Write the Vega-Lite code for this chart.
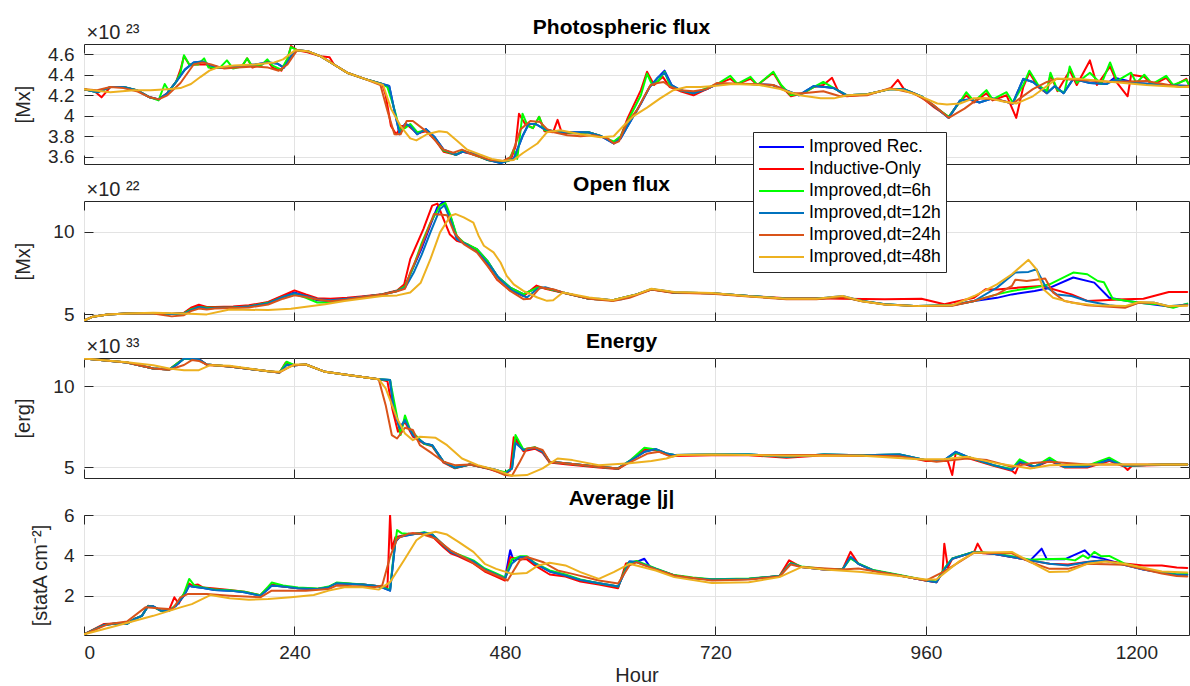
{
"$schema": "https://vega.github.io/schema/vega-lite/v6.json",
"padding": {"left": 12, "top": 16, "right": 0, "bottom": 0},
"spacing": 37,
"bounds": "flush",
"config": {
  "font": "Liberation Sans",
  "view": {"stroke": "#262626", "strokeWidth": 1},
  "axis": {"labelFont": "Liberation Sans", "labelFontSize": 19, "labelColor": "#262626", "titleFont": "Liberation Sans", "titleFontSize": 20, "titleFontWeight": "normal", "titleColor": "#262626", "tickColor": "#262626", "tickSize": -9, "gridColor": "#e3e3e3", "domain": false},
  "title": {"font": "Liberation Sans", "fontSize": 21, "fontWeight": "bold", "color": "#000000", "dx": -15, "dy": 20},
  "legend": {"orient": "none", "legendX": 669, "legendY": 88, "fillColor": "#ffffff", "strokeColor": "#262626", "padding": 5, "labelFont": "Liberation Sans", "labelFontSize": 17.5, "labelColor": "#000000", "symbolType": "stroke", "symbolSize": 2025, "symbolStrokeWidth": 3, "clipHeight": 20, "rowPadding": 2, "labelOffset": 4, "cornerRadius": 0}
},
"data": {"values": [
{"p":"phot","s":"Improved Rec.","d":[[0,4.26],[15,4.23],[30,4.28],[45,4.28],[60,4.25],[75,4.18],[85,4.16],[95,4.22],[105,4.33],[115,4.45],[125,4.52],[135,4.53],[145,4.49],[155,4.47],[170,4.48],[185,4.49],[195,4.50],[210,4.52],[220,4.51],[228,4.47],[236,4.58],[243,4.64],[255,4.63],[270,4.58],[285,4.50],[300,4.42],[320,4.36],[340,4.31],[348,4.29],[354,4.05],[360,3.82],[366,3.92],[372,3.90],[380,3.82],[390,3.87],[400,3.79],[410,3.67],[424,3.62],[432,3.65],[445,3.63],[460,3.57],[475,3.54],[490,3.58],[500,3.80],[507,3.92],[515,3.92],[525,3.87],[540,3.84],[560,3.84],[575,3.84],[590,3.80],[604,3.73],[612,3.78],[620,3.90],[635,4.12],[645,4.28],[654,4.37],[662,4.44],[670,4.30],[680,4.25],[695,4.22],[710,4.26],[722,4.31],[740,4.31],[760,4.31],[785,4.30],[800,4.25],[815,4.20],[832,4.29],[845,4.28],[855,4.27],[870,4.20],[893,4.21],[919,4.26],[935,4.26],[955,4.19],[970,4.09],[986,3.98],[999,4.15],[1010,4.16],[1021,4.13],[1036,4.17],[1059,4.12],[1071,4.36],[1082,4.33],[1098,4.22],[1107,4.29],[1117,4.22],[1128,4.36],[1147,4.32],[1166,4.31],[1175,4.37],[1200,4.32],[1230,4.30],[1260,4.29]]},
{"p":"phot","s":"Inductive-Only","d":[[0,4.26],[12,4.24],[20,4.18],[30,4.28],[45,4.28],[60,4.25],[75,4.18],[85,4.16],[95,4.22],[105,4.33],[110,4.45],[114,4.58],[120,4.50],[130,4.50],[140,4.50],[145,4.46],[155,4.47],[170,4.47],[180,4.48],[186,4.56],[192,4.47],[203,4.50],[209,4.54],[215,4.47],[225,4.44],[232,4.55],[236,4.68],[243,4.64],[255,4.62],[270,4.58],[280,4.57],[285,4.50],[300,4.42],[320,4.36],[340,4.31],[344,4.20],[350,3.90],[356,3.82],[362,3.90],[370,3.90],[380,3.83],[390,3.85],[400,3.77],[410,3.65],[424,3.62],[432,3.65],[445,3.62],[460,3.57],[475,3.55],[487,3.58],[492,3.70],[496,4.02],[503,3.92],[512,3.88],[519,3.99],[525,3.85],[535,3.84],[540,3.96],[545,3.83],[560,3.83],[575,3.84],[590,3.80],[604,3.74],[612,3.80],[620,3.98],[635,4.25],[642,4.43],[650,4.30],[660,4.38],[668,4.28],[680,4.24],[695,4.20],[710,4.26],[722,4.31],[737,4.36],[745,4.31],[760,4.36],[768,4.30],[786,4.42],[795,4.29],[806,4.19],[820,4.22],[832,4.28],[843,4.30],[853,4.37],[860,4.24],[870,4.19],[893,4.21],[919,4.26],[928,4.35],[935,4.26],[955,4.18],[970,4.08],[986,3.99],[999,4.14],[1006,4.20],[1015,4.13],[1029,4.22],[1036,4.15],[1052,4.20],[1063,3.98],[1071,4.28],[1078,4.42],[1088,4.28],[1098,4.22],[1102,4.40],[1110,4.24],[1124,4.44],[1132,4.30],[1147,4.54],[1155,4.30],[1170,4.48],[1178,4.32],[1190,4.19],[1194,4.40],[1209,4.38],[1218,4.30],[1234,4.37],[1242,4.29],[1257,4.36],[1260,4.30]]},
{"p":"phot","s":"Improved,dt=6h","d":[[0,4.26],[15,4.23],[30,4.28],[45,4.28],[60,4.25],[75,4.18],[85,4.15],[92,4.31],[97,4.24],[105,4.33],[110,4.42],[114,4.59],[120,4.50],[130,4.50],[137,4.56],[142,4.47],[155,4.47],[163,4.54],[170,4.46],[180,4.48],[186,4.56],[192,4.48],[203,4.50],[209,4.55],[215,4.49],[225,4.45],[232,4.56],[236,4.67],[243,4.64],[255,4.63],[270,4.58],[285,4.50],[300,4.42],[320,4.36],[340,4.31],[346,4.28],[352,4.12],[355,4.03],[360,3.86],[366,3.88],[372,3.92],[380,3.84],[390,3.86],[400,3.78],[410,3.66],[424,3.62],[432,3.66],[445,3.62],[460,3.57],[475,3.55],[484,3.56],[490,3.67],[494,3.58],[500,4.02],[506,3.90],[512,3.88],[519,3.99],[525,3.86],[540,3.85],[560,3.83],[575,3.84],[590,3.80],[604,3.75],[612,3.80],[620,3.95],[635,4.20],[642,4.41],[648,4.30],[655,4.34],[662,4.43],[668,4.30],[680,4.25],[695,4.22],[710,4.27],[722,4.31],[737,4.39],[745,4.31],[760,4.38],[768,4.30],[786,4.43],[795,4.30],[806,4.20],[820,4.22],[832,4.28],[843,4.33],[855,4.27],[870,4.20],[893,4.21],[919,4.26],[935,4.26],[955,4.19],[970,4.09],[986,3.99],[999,4.14],[1006,4.23],[1015,4.14],[1029,4.25],[1036,4.16],[1052,4.23],[1059,4.13],[1071,4.30],[1078,4.44],[1088,4.30],[1098,4.24],[1102,4.42],[1110,4.25],[1118,4.23],[1124,4.48],[1132,4.32],[1147,4.42],[1160,4.31],[1170,4.52],[1178,4.34],[1194,4.42],[1200,4.32],[1209,4.40],[1218,4.31],[1234,4.39],[1242,4.30],[1257,4.35],[1260,4.30]]},
{"p":"phot","s":"Improved,dt=12h","d":[[0,4.26],[15,4.23],[30,4.28],[45,4.28],[60,4.25],[75,4.18],[85,4.16],[95,4.22],[105,4.33],[115,4.45],[125,4.52],[135,4.53],[145,4.49],[155,4.47],[170,4.48],[185,4.49],[195,4.50],[210,4.52],[220,4.51],[228,4.47],[236,4.58],[243,4.64],[255,4.63],[270,4.58],[285,4.50],[300,4.42],[320,4.36],[340,4.31],[348,4.29],[354,4.05],[360,3.82],[366,3.92],[372,3.90],[380,3.82],[390,3.87],[400,3.79],[410,3.67],[424,3.62],[432,3.65],[445,3.63],[460,3.57],[475,3.54],[490,3.58],[500,3.80],[507,3.92],[515,3.92],[525,3.87],[540,3.84],[560,3.84],[575,3.84],[590,3.80],[604,3.73],[612,3.78],[620,3.90],[635,4.12],[645,4.28],[654,4.37],[662,4.42],[670,4.30],[680,4.25],[695,4.22],[710,4.26],[722,4.31],[740,4.31],[760,4.31],[785,4.30],[800,4.25],[815,4.20],[832,4.29],[845,4.28],[855,4.27],[870,4.20],[893,4.21],[919,4.26],[935,4.26],[955,4.19],[970,4.09],[986,3.98],[999,4.15],[1010,4.16],[1021,4.13],[1036,4.17],[1059,4.12],[1071,4.36],[1082,4.33],[1098,4.22],[1107,4.29],[1117,4.22],[1128,4.36],[1147,4.32],[1166,4.31],[1175,4.35],[1200,4.32],[1230,4.30],[1260,4.29]]},
{"p":"phot","s":"Improved,dt=24h","d":[[0,4.26],[15,4.25],[30,4.28],[45,4.27],[60,4.24],[75,4.18],[85,4.16],[95,4.20],[110,4.32],[125,4.50],[135,4.52],[145,4.50],[160,4.46],[175,4.47],[195,4.48],[210,4.47],[222,4.44],[232,4.50],[243,4.64],[255,4.63],[270,4.58],[285,4.50],[300,4.42],[320,4.36],[338,4.30],[346,4.05],[354,3.82],[361,3.82],[368,3.95],[375,3.95],[387,3.87],[394,3.82],[410,3.67],[421,3.64],[431,3.67],[444,3.62],[463,3.57],[478,3.56],[487,3.60],[498,3.87],[509,3.95],[520,3.94],[528,3.87],[536,3.84],[551,3.81],[566,3.80],[581,3.81],[597,3.78],[604,3.73],[610,3.75],[619,3.93],[631,4.06],[639,4.19],[646,4.30],[654,4.32],[661,4.33],[669,4.28],[680,4.25],[695,4.24],[710,4.26],[722,4.32],[760,4.31],[786,4.30],[806,4.22],[820,4.22],[843,4.24],[862,4.19],[893,4.20],[919,4.27],[946,4.22],[968,4.11],[986,3.98],[1004,4.07],[1020,4.17],[1041,4.16],[1059,4.12],[1082,4.26],[1098,4.33],[1109,4.36],[1135,4.35],[1173,4.33],[1211,4.34],[1250,4.28],[1260,4.29]]},
{"p":"phot","s":"Improved,dt=48h","d":[[0,4.26],[30,4.23],[57,4.25],[76,4.25],[95,4.26],[110,4.27],[122,4.31],[133,4.38],[143,4.44],[152,4.47],[171,4.49],[194,4.50],[217,4.52],[227,4.55],[241,4.64],[255,4.63],[270,4.58],[285,4.50],[300,4.42],[320,4.36],[341,4.30],[350,4.07],[361,3.90],[372,3.78],[379,3.76],[391,3.82],[405,3.85],[414,3.84],[425,3.76],[437,3.67],[452,3.62],[465,3.58],[478,3.56],[490,3.57],[501,3.64],[517,3.73],[528,3.84],[543,3.86],[566,3.82],[589,3.79],[604,3.80],[615,3.90],[627,4.00],[642,4.08],[657,4.17],[672,4.25],[687,4.28],[703,4.28],[718,4.29],[740,4.31],[770,4.30],[794,4.26],[816,4.20],[840,4.17],[855,4.17],[870,4.20],[893,4.21],[919,4.26],[934,4.25],[954,4.19],[973,4.12],[984,4.11],[999,4.12],[1014,4.17],[1033,4.17],[1048,4.14],[1063,4.12],[1082,4.19],[1098,4.29],[1109,4.36],[1135,4.36],[1173,4.33],[1211,4.30],[1250,4.28],[1260,4.28]]},
{"p":"open","s":"Improved Rec.","d":[[0,4.62],[10,4.86],[27,5.0],[49,5.06],[79,5.08],[100,5.02],[114,5.08],[122,5.35],[131,5.5],[140,5.42],[149,5.42],[170,5.45],[188,5.5],[210,5.72],[227,6.1],[240,6.32],[253,6.1],[266,5.85],[281,5.8],[300,5.95],[319,6.07],[340,6.2],[357,6.42],[366,6.72],[376,7.9],[385,9.0],[395,10.4],[403,11.5],[410,11.82],[418,10.9],[425,9.7],[433,9.3],[448,8.95],[460,8.24],[471,7.33],[486,6.62],[501,6.22],[517,6.62],[526,6.6],[546,6.32],[576,5.95],[603,5.85],[630,6.21],[647,6.52],[673,6.32],[716,6.28],[758,6.11],[801,5.95],[835,5.95],[865,6.07],[887,5.81],[913,5.61],[951,5.5],[990,5.55],[1015,5.81],[1041,6.0],[1058,6.21],[1084,6.42],[1101,6.6],[1128,7.23],[1152,6.92],[1169,6.01],[1190,5.81],[1220,5.6],[1242,5.45],[1258,5.62]]},
{"p":"open","s":"Inductive-Only","d":[[0,4.62],[10,4.86],[27,5.0],[49,5.06],[79,5.08],[100,5.02],[114,5.1],[122,5.4],[131,5.58],[140,5.45],[149,5.45],[170,5.48],[188,5.55],[210,5.75],[227,6.15],[240,6.45],[253,6.2],[266,5.98],[281,5.95],[300,6.0],[319,6.1],[340,6.22],[357,6.45],[365,6.8],[372,8.34],[387,10.16],[397,11.58],[403,11.7],[410,10.77],[417,9.85],[425,9.45],[437,9.25],[447,8.95],[460,8.0],[471,7.1],[486,6.45],[501,6.1],[516,6.74],[526,6.55],[546,6.3],[576,5.95],[603,5.85],[630,6.21],[647,6.5],[673,6.3],[716,6.28],[758,6.11],[801,5.97],[835,5.97],[865,5.95],[913,5.91],[955,5.95],[981,5.61],[1015,6.01],[1028,6.52],[1041,6.5],[1066,6.62],[1092,6.72],[1126,6.21],[1144,5.81],[1187,5.91],[1208,5.95],[1237,6.36],[1258,6.36]]},
{"p":"open","s":"Improved,dt=6h","d":[[0,4.62],[10,4.86],[27,5.0],[49,5.06],[79,5.08],[100,5.02],[114,5.06],[122,5.3],[131,5.45],[140,5.4],[149,5.4],[170,5.42],[188,5.48],[210,5.7],[227,6.05],[240,6.25],[253,6.0],[266,5.72],[281,5.72],[300,5.9],[319,6.05],[340,6.2],[357,6.42],[366,6.7],[376,7.94],[385,9.3],[395,10.55],[406,11.58],[412,11.74],[418,10.97],[425,9.75],[433,9.35],[448,8.95],[460,8.24],[471,7.33],[486,6.62],[501,6.22],[517,6.62],[526,6.6],[546,6.32],[576,5.95],[603,5.85],[630,6.21],[647,6.52],[673,6.32],[716,6.28],[758,6.11],[801,5.95],[835,5.95],[865,6.07],[887,5.81],[913,5.61],[951,5.5],[990,5.55],[1015,5.81],[1041,6.21],[1058,6.42],[1084,6.62],[1101,6.82],[1128,7.53],[1144,7.43],[1156,7.02],[1163,6.95],[1173,5.95],[1190,5.81],[1208,5.67],[1225,5.61],[1242,5.4],[1258,5.65]]},
{"p":"open","s":"Improved,dt=12h","d":[[0,4.62],[10,4.86],[27,5.0],[49,5.06],[79,5.08],[100,5.02],[114,5.05],[122,5.25],[131,5.45],[140,5.35],[149,5.38],[170,5.42],[188,5.48],[210,5.68],[227,6.05],[240,6.28],[253,6.12],[266,5.92],[281,5.85],[300,5.95],[319,6.07],[340,6.2],[357,6.42],[366,6.6],[376,7.53],[385,8.6],[395,9.96],[406,11.38],[411,11.6],[418,10.7],[425,9.55],[437,9.2],[451,8.65],[463,7.94],[474,7.13],[489,6.42],[505,6.02],[517,6.55],[526,6.64],[535,6.5],[546,6.32],[560,6.15],[576,5.95],[587,5.95],[603,5.85],[613,5.91],[630,6.21],[647,6.52],[660,6.45],[673,6.32],[716,6.28],[758,6.11],[801,5.95],[835,5.95],[865,6.12],[887,5.81],[913,5.61],[951,5.5],[990,5.55],[1015,5.81],[1041,6.62],[1062,7.53],[1077,7.57],[1086,7.73],[1096,6.72],[1109,6.21],[1126,6.11],[1144,5.81],[1169,5.55],[1187,5.45],[1203,5.71],[1220,5.71],[1237,5.5],[1258,5.6]]},
{"p":"open","s":"Improved,dt=24h","d":[[0,4.62],[10,4.86],[27,5.0],[49,5.06],[79,5.05],[100,4.88],[114,4.95],[122,5.2],[131,5.35],[140,5.3],[149,5.35],[170,5.38],[188,5.42],[210,5.6],[227,5.95],[240,6.15],[253,6.05],[266,5.9],[281,5.8],[300,5.9],[319,6.05],[340,6.2],[357,6.4],[366,6.55],[372,7.53],[381,8.6],[391,9.96],[399,11.07],[414,11.0],[422,9.96],[433,9.25],[448,8.75],[460,7.94],[471,7.13],[486,6.42],[501,5.92],[509,5.95],[520,6.62],[535,6.52],[546,6.32],[576,5.95],[603,5.81],[622,6.0],[647,6.5],[673,6.32],[716,6.25],[758,6.08],[801,5.92],[835,5.92],[865,6.05],[887,5.8],[913,5.6],[951,5.5],[990,5.52],[1015,5.81],[1041,6.21],[1058,6.72],[1062,7.1],[1075,7.02],[1096,7.17],[1105,6.32],[1118,5.81],[1144,5.55],[1187,5.4],[1203,5.71],[1220,5.71],[1237,5.47],[1258,5.55]]},
{"p":"open","s":"Improved,dt=48h","d":[[0,4.62],[10,4.86],[27,5.0],[49,5.06],[79,5.1],[114,5.06],[140,5.0],[166,5.3],[210,5.26],[236,5.34],[275,5.61],[297,5.81],[340,6.11],[357,6.15],[372,6.32],[384,6.92],[395,8.34],[406,9.96],[418,10.97],[424,11.07],[433,10.87],[444,10.55],[450,9.75],[456,9.15],[467,8.75],[475,8.14],[482,7.33],[490,6.82],[501,6.42],[517,6.02],[528,5.82],[535,5.85],[546,6.32],[576,6.02],[603,5.85],[630,6.21],[647,6.55],[673,6.35],[716,6.3],[758,6.1],[801,5.95],[835,5.95],[865,6.12],[887,5.8],[913,5.6],[951,5.5],[990,5.55],[1015,6.11],[1041,6.82],[1058,7.43],[1077,8.3],[1086,7.73],[1094,6.52],[1105,6.01],[1126,5.71],[1152,5.55],[1187,5.5],[1203,5.75],[1220,5.71],[1237,5.5],[1258,5.52]]},
{"p":"energy","s":"Improved Rec.","d":[[0,11.70],[49,11.45],[79,11.09],[97,11.02],[105,11.29],[114,11.68],[131,11.64],[140,11.33],[166,11.2],[210,10.92],[223,10.84],[231,11.35],[240,11.29],[253,11.33],[275,10.88],[297,10.72],[336,10.43],[349,10.37],[353,8.63],[360,7.4],[366,7.91],[375,6.99],[388,6.48],[397,6.37],[410,5.35],[423,4.98],[440,5.18],[462,4.94],[470,4.84],[480,4.63],[488,4.94],[492,6.8],[501,6.07],[514,6.21],[523,5.96],[531,5.35],[549,5.25],[587,5.04],[609,4.94],[622,5.39],[639,5.96],[652,6.13],[664,5.86],[673,5.76],[716,5.8],[758,5.8],[801,5.66],[844,5.8],[887,5.75],[930,5.8],[960,5.45],[981,5.45],[994,5.96],[1007,5.66],[1037,5.14],[1058,4.84],[1067,5.35],[1084,5.04],[1101,5.45],[1118,5.04],[1144,5.04],[1169,5.5],[1186,5.1],[1229,5.18],[1258,5.18]]},
{"p":"energy","s":"Inductive-Only","d":[[0,11.70],[49,11.45],[79,11.09],[97,11.02],[105,11.35],[114,11.72],[131,11.66],[140,11.3],[166,11.2],[210,10.92],[223,10.84],[230,11.45],[240,11.29],[253,11.33],[275,10.88],[297,10.72],[336,10.43],[346,10.3],[352,8.5],[358,7.2],[366,7.8],[375,6.9],[388,6.45],[397,6.3],[410,5.3],[423,4.95],[440,5.18],[462,4.9],[480,4.6],[486,4.8],[490,6.85],[501,6.0],[514,6.15],[523,5.9],[531,5.3],[549,5.2],[587,5.0],[609,4.9],[622,5.35],[639,6.1],[652,6.05],[664,5.8],[673,5.7],[716,5.75],[758,5.75],[801,5.6],[844,5.75],[887,5.7],[930,5.75],[960,5.4],[985,5.4],[990,4.53],[994,5.9],[1007,5.6],[1037,5.1],[1058,4.8],[1062,4.63],[1067,5.3],[1084,5.0],[1101,5.4],[1118,5.0],[1144,5.0],[1169,5.4],[1186,5.05],[1190,4.84],[1195,5.1],[1229,5.15],[1258,5.18]]},
{"p":"energy","s":"Improved,dt=6h","d":[[0,11.70],[49,11.45],[79,11.09],[97,11.02],[105,11.35],[114,11.68],[131,11.62],[140,11.33],[166,11.2],[210,10.92],[223,10.84],[231,11.5],[240,11.29],[253,11.33],[275,10.88],[297,10.72],[336,10.43],[349,10.37],[355,8.67],[361,7.0],[366,8.2],[372,7.3],[388,6.45],[397,6.35],[410,5.35],[423,4.98],[440,5.18],[462,4.94],[480,4.7],[488,4.94],[492,6.99],[501,6.1],[514,6.25],[523,6.0],[531,5.35],[549,5.25],[587,5.04],[609,4.94],[622,5.4],[639,6.21],[652,6.1],[664,5.86],[673,5.76],[716,5.8],[758,5.8],[801,5.66],[844,5.8],[887,5.75],[930,5.8],[960,5.45],[981,5.45],[994,5.9],[1007,5.66],[1037,5.14],[1058,4.9],[1067,5.5],[1084,5.04],[1101,5.6],[1118,5.04],[1144,5.1],[1169,5.6],[1186,5.1],[1229,5.18],[1258,5.18]]},
{"p":"energy","s":"Improved,dt=12h","d":[[0,11.70],[49,11.45],[79,11.09],[97,11.02],[105,11.29],[114,11.70],[131,11.66],[140,11.33],[166,11.2],[210,10.92],[223,10.84],[231,11.3],[240,11.29],[253,11.33],[275,10.88],[297,10.72],[336,10.43],[349,10.37],[353,8.63],[360,7.4],[366,7.91],[375,6.99],[388,6.48],[397,6.37],[410,5.35],[423,4.98],[440,5.18],[462,4.94],[470,4.84],[480,4.63],[488,4.94],[492,6.5],[501,6.07],[514,6.21],[523,5.96],[531,5.35],[549,5.25],[587,5.04],[609,4.94],[622,5.39],[639,5.96],[652,6.13],[664,5.86],[673,5.76],[716,5.8],[758,5.8],[801,5.66],[844,5.8],[887,5.75],[930,5.8],[960,5.45],[981,5.45],[994,5.96],[1007,5.66],[1037,5.14],[1058,4.84],[1067,5.35],[1084,5.04],[1101,5.45],[1118,5.04],[1144,5.04],[1169,5.45],[1186,5.1],[1229,5.18],[1258,5.18]]},
{"p":"energy","s":"Improved,dt=24h","d":[[0,11.70],[49,11.45],[79,11.09],[97,11.0],[114,11.3],[123,11.6],[131,11.55],[140,11.33],[166,11.2],[210,10.92],[223,10.84],[235,11.2],[240,11.29],[253,11.33],[275,10.88],[297,10.72],[336,10.43],[344,8.83],[351,6.99],[357,6.78],[366,7.44],[375,7.3],[383,6.37],[397,5.86],[410,5.35],[423,5.14],[440,5.18],[462,4.94],[480,4.53],[488,4.49],[497,5.35],[505,6.17],[514,6.23],[523,6.07],[531,5.35],[549,5.25],[587,5.04],[609,4.94],[622,5.3],[643,5.86],[656,5.96],[669,5.66],[681,5.76],[758,5.76],[844,5.76],[930,5.68],[972,5.35],[1007,5.55],[1030,5.45],[1058,5.04],[1079,5.25],[1101,5.35],[1144,5.18],[1258,5.18]]},
{"p":"energy","s":"Improved,dt=48h","d":[[0,11.70],[49,11.47],[79,11.29],[97,11.09],[114,10.98],[131,10.98],[144,11.29],[166,11.25],[210,10.92],[223,10.88],[240,11.33],[253,11.33],[275,10.88],[297,10.72],[336,10.43],[344,9.86],[357,8.01],[366,7.09],[375,6.68],[383,6.89],[401,6.82],[414,6.37],[431,5.55],[449,5.14],[470,4.84],[488,4.49],[505,4.53],[523,4.94],[540,5.55],[557,5.45],[587,5.14],[622,5.25],[647,5.39],[664,5.55],[677,5.76],[716,5.8],[801,5.72],[888,5.72],[951,5.51],[980,5.51],[1007,5.66],[1041,5.25],[1079,4.94],[1101,5.14],[1144,5.18],[1258,5.18]]},
{"p":"j","s":"Improved Rec.","d":[[0,0.08],[23,0.55],[36,0.62],[49,0.6],[57,0.83],[66,1.0],[73,1.48],[79,1.47],[88,1.25],[97,1.25],[105,1.5],[114,2.0],[120,2.5],[123,2.45],[136,2.38],[149,2.28],[166,2.25],[183,2.17],[201,2.0],[210,2.33],[214,2.5],[227,2.45],[244,2.37],[266,2.33],[279,2.42],[288,2.62],[318,2.55],[336,2.47],[349,2.25],[355,4.67],[360,4.92],[375,5.05],[388,5.12],[397,5.03],[410,4.5],[418,4.17],[427,4.0],[444,3.7],[457,3.3],[470,3.05],[480,2.85],[486,4.25],[490,3.7],[497,3.92],[505,3.92],[514,3.6],[531,3.2],[549,3.0],[566,2.78],[587,2.62],[609,2.45],[622,3.7],[630,3.67],[639,3.83],[645,3.45],[652,3.33],[673,3.0],[694,2.87],[716,2.8],[758,2.83],[793,2.97],[806,3.6],[818,3.42],[844,3.3],[865,3.3],[874,3.92],[883,3.58],[900,3.25],[930,3.0],[960,2.75],[972,2.67],[981,3.3],[990,3.83],[1015,4.17],[1037,4.08],[1058,3.92],[1079,3.75],[1092,4.33],[1098,3.8],[1118,3.8],[1141,4.25],[1148,3.95],[1161,3.85],[1186,3.53],[1208,3.3],[1229,3.15],[1246,3.05],[1258,3.05]]},
{"p":"j","s":"Inductive-Only","d":[[0,0.08],[23,0.6],[36,0.62],[49,0.62],[57,0.85],[66,1.0],[73,1.5],[79,1.45],[88,1.25],[97,1.3],[103,1.92],[108,1.6],[114,2.1],[120,2.6],[123,2.5],[130,2.55],[136,2.4],[149,2.35],[166,2.28],[183,2.2],[201,2.02],[210,2.4],[214,2.55],[227,2.45],[244,2.37],[266,2.33],[279,2.42],[288,2.62],[318,2.55],[336,2.47],[346,2.4],[349,6.0],[351,4.33],[355,4.9],[360,4.95],[375,5.1],[388,5.05],[397,4.95],[410,4.4],[418,4.1],[427,3.95],[444,3.6],[457,3.2],[470,2.95],[480,2.75],[486,3.9],[492,3.85],[497,3.8],[505,3.8],[514,3.5],[531,3.05],[549,2.95],[566,2.7],[587,2.55],[609,2.37],[618,3.6],[630,3.7],[652,3.3],[673,3.0],[694,2.87],[716,2.8],[758,2.83],[793,2.97],[804,3.75],[818,3.42],[844,3.3],[865,3.3],[874,4.17],[883,3.58],[900,3.25],[930,3.0],[960,2.75],[972,2.67],[979,3.2],[981,4.58],[985,3.4],[990,3.83],[1015,4.17],[1019,4.58],[1025,4.1],[1037,4.08],[1058,3.92],[1079,3.75],[1101,3.58],[1122,3.55],[1144,3.67],[1161,3.75],[1186,3.6],[1208,3.5],[1229,3.5],[1246,3.4],[1258,3.37]]},
{"p":"j","s":"Improved,dt=6h","d":[[0,0.08],[23,0.55],[36,0.62],[49,0.6],[57,0.83],[66,1.0],[73,1.48],[79,1.45],[88,1.25],[97,1.25],[105,1.55],[114,2.1],[120,2.83],[126,2.5],[136,2.4],[149,2.3],[166,2.27],[183,2.2],[201,2.02],[210,2.45],[214,2.65],[227,2.5],[244,2.4],[266,2.35],[279,2.45],[288,2.65],[318,2.55],[336,2.47],[349,2.3],[353,4.0],[357,5.25],[362,5.1],[375,5.05],[388,5.15],[397,5.05],[410,4.5],[418,4.2],[427,4.05],[444,3.75],[457,3.35],[470,3.1],[480,2.9],[488,3.8],[497,3.95],[505,3.95],[514,3.62],[531,3.25],[549,3.05],[566,2.8],[587,2.62],[609,2.45],[620,3.6],[630,3.72],[652,3.35],[673,3.02],[694,2.9],[716,2.82],[758,2.85],[793,2.98],[806,3.62],[818,3.45],[844,3.32],[865,3.32],[874,3.85],[883,3.6],[900,3.27],[930,3.02],[960,2.77],[972,2.7],[981,3.35],[990,3.85],[1015,4.18],[1037,4.1],[1058,3.95],[1079,3.78],[1092,3.8],[1118,3.83],[1130,3.75],[1139,4.0],[1145,3.85],[1152,4.17],[1160,3.95],[1169,3.97],[1186,3.6],[1208,3.35],[1229,3.15],[1246,3.05],[1258,3.08]]},
{"p":"j","s":"Improved,dt=12h","d":[[0,0.08],[23,0.55],[36,0.62],[49,0.6],[57,0.83],[66,1.0],[73,1.48],[79,1.47],[88,1.25],[97,1.25],[105,1.5],[114,2.0],[120,2.5],[123,2.45],[136,2.38],[149,2.28],[166,2.25],[183,2.17],[201,2.0],[210,2.33],[214,2.5],[227,2.45],[244,2.37],[266,2.33],[279,2.42],[288,2.62],[318,2.55],[336,2.47],[349,2.25],[355,4.67],[360,4.92],[375,5.05],[388,5.12],[397,5.03],[410,4.5],[418,4.17],[427,4.0],[444,3.7],[457,3.3],[470,3.05],[480,2.85],[488,3.6],[497,3.92],[505,3.92],[514,3.6],[531,3.2],[549,3.0],[566,2.78],[587,2.62],[609,2.45],[622,3.7],[630,3.67],[652,3.33],[673,3.0],[694,2.87],[716,2.8],[758,2.83],[793,2.97],[806,3.6],[818,3.42],[844,3.3],[865,3.3],[874,3.92],[883,3.58],[900,3.25],[930,3.0],[960,2.75],[972,2.67],[981,3.3],[990,3.83],[1015,4.17],[1037,4.08],[1058,3.92],[1079,3.75],[1101,3.58],[1122,3.5],[1144,3.67],[1161,3.75],[1186,3.53],[1208,3.3],[1229,3.13],[1246,3.03],[1258,3.03]]},
{"p":"j","s":"Improved,dt=24h","d":[[0,0.08],[27,0.58],[49,0.72],[70,1.42],[88,1.37],[101,1.33],[110,1.92],[118,2.08],[140,2.08],[166,2.0],[201,1.92],[214,2.25],[253,2.25],[279,2.33],[288,2.5],[331,2.42],[340,2.5],[349,3.92],[357,4.83],[370,5.08],[383,5.08],[401,4.83],[418,4.25],[436,3.83],[457,3.25],[475,2.92],[483,2.75],[497,3.75],[505,3.92],[523,3.67],[540,3.25],[557,3.08],[587,2.75],[609,2.6],[622,3.5],[630,3.65],[652,3.3],[673,3.0],[716,2.75],[758,2.8],[793,2.95],[806,3.55],[818,3.42],[865,3.3],[883,3.35],[930,3.0],[960,2.75],[981,3.2],[1015,4.13],[1058,4.1],[1079,3.67],[1101,3.33],[1122,3.33],[1144,3.58],[1186,3.53],[1229,3.1],[1246,2.97],[1258,2.95]]},
{"p":"j","s":"Improved,dt=48h","d":[[0,0.08],[36,0.5],[79,1.0],[110,1.42],[123,1.58],[144,2.03],[166,1.87],[188,1.8],[210,1.83],[236,1.92],[262,2.03],[279,2.25],[297,2.42],[318,2.42],[336,2.3],[349,2.67],[366,3.83],[379,4.75],[388,5.03],[401,5.17],[414,5.03],[427,4.67],[444,4.17],[457,3.58],[470,3.33],[488,3.08],[505,3.13],[518,3.5],[531,3.63],[549,3.5],[566,3.17],[587,2.83],[604,3.17],[622,3.58],[652,3.25],[673,2.92],[716,2.63],[758,2.67],[793,2.92],[818,3.42],[844,3.3],[887,3.17],[930,2.97],[960,2.8],[972,2.8],[998,3.7],[1015,4.13],[1058,4.17],[1079,3.67],[1101,3.17],[1122,3.2],[1144,3.58],[1165,3.7],[1186,3.58],[1229,3.2],[1258,3.15]]}
]},
"vconcat": [
 {"width": 1105, "height": 120, "title": {"text": "Photospheric flux"},
  "layer": [
   {"transform": [{"filter": "datum.p == 'phot'"}, {"flatten": ["d"]}],
    "mark": {"type": "line", "clip": true, "strokeJoin": "round", "strokeCap": "round"},
    "encoding": {
     "x": {"field": "d[0]", "type": "quantitative", "scale": {"domain": [0, 1260], "nice": false}, "axis": {"orient": "bottom", "values": [0,240,480,720,960,1200], "labels": false, "title": null, "grid": true}},
     "y": {"field": "d[1]", "type": "quantitative", "scale": {"domain": [3.53, 4.70], "nice": false, "zero": false}, "axis": {"values": [3.6,3.8,4,4.2,4.4,4.6], "format": "~r", "grid": true, "labelPadding": 19, "title": "[Mx]", "titleX": -61, "titleY": 60, "titleAngle": 270, "titleAlign": "center", "titleBaseline": "middle"}},
     "color": {"field": "s", "type": "nominal", "scale": {"domain": ["Improved Rec.","Inductive-Only","Improved,dt=6h","Improved,dt=12h","Improved,dt=24h","Improved,dt=48h"], "range": ["#0000FF","#FF0000","#00FF00","#0072BD","#D95319","#EDB120"]}, "legend": {"title": null}},
     "strokeWidth": {"field": "s", "type": "ordinal", "scale": {"domain": ["Improved Rec.","Inductive-Only","Improved,dt=6h","Improved,dt=12h","Improved,dt=24h","Improved,dt=48h"], "range": [2,2,2,3.8,3.8,3.8]}, "legend": null}
    }},
   {"data": {"values": [{"h": 0, "v": 4.2}]},
    "mark": {"type": "point", "opacity": 0},
    "encoding": {
     "x": {"field": "h", "type": "quantitative", "scale": {"domain": [0, 1260], "nice": false}, "axis": {"orient": "top", "values": [0,240,480,720,960,1200], "labels": false, "grid": false, "title": "×10 ²³", "titleX": 2, "titleY": -6, "titleAngle": 0, "titleAlign": "left", "titleBaseline": "alphabetic", "titleFontSize": 20}},
     "y": {"field": "v", "type": "quantitative", "scale": {"domain": [3.53, 4.70], "nice": false, "zero": false}, "axis": {"orient": "right", "values": [3.6,3.8,4,4.2,4.4,4.6], "labels": false, "grid": false, "title": null}}
    }}
  ],
  "resolve": {"axis": {"x": "independent", "y": "independent"}}
 },
 {"width": 1105, "height": 120, "title": {"text": "Open flux"},
  "layer": [
   {"transform": [{"filter": "datum.p == 'open'"}, {"flatten": ["d"]}],
    "mark": {"type": "line", "clip": true, "strokeJoin": "round", "strokeCap": "round"},
    "encoding": {
     "x": {"field": "d[0]", "type": "quantitative", "scale": {"domain": [0, 1260], "nice": false}, "axis": {"orient": "bottom", "values": [0,240,480,720,960,1200], "labels": false, "title": null, "grid": true}},
     "y": {"field": "d[1]", "type": "quantitative", "scale": {"domain": [4.60, 11.86], "nice": false, "zero": false}, "axis": {"values": [5,10], "format": "~r", "grid": true, "labelPadding": 19, "title": "[Mx]", "titleX": -61, "titleY": 60, "titleAngle": 270, "titleAlign": "center", "titleBaseline": "middle"}},
     "color": {"field": "s", "type": "nominal", "scale": {"domain": ["Improved Rec.","Inductive-Only","Improved,dt=6h","Improved,dt=12h","Improved,dt=24h","Improved,dt=48h"], "range": ["#0000FF","#FF0000","#00FF00","#0072BD","#D95319","#EDB120"]}, "legend": {"title": null}},
     "strokeWidth": {"field": "s", "type": "ordinal", "scale": {"domain": ["Improved Rec.","Inductive-Only","Improved,dt=6h","Improved,dt=12h","Improved,dt=24h","Improved,dt=48h"], "range": [2,2,2,3.8,3.8,3.8]}, "legend": null}
    }},
   {"data": {"values": [{"h": 0, "v": 5}]},
    "mark": {"type": "point", "opacity": 0},
    "encoding": {
     "x": {"field": "h", "type": "quantitative", "scale": {"domain": [0, 1260], "nice": false}, "axis": {"orient": "top", "values": [0,240,480,720,960,1200], "labels": false, "grid": false, "title": "×10 ²²", "titleX": 2, "titleY": -6, "titleAngle": 0, "titleAlign": "left", "titleBaseline": "alphabetic", "titleFontSize": 20}},
     "y": {"field": "v", "type": "quantitative", "scale": {"domain": [4.60, 11.86], "nice": false, "zero": false}, "axis": {"orient": "right", "values": [5,10], "labels": false, "grid": false, "title": null}}
    }}
  ],
  "resolve": {"axis": {"x": "independent", "y": "independent"}}
 },
 {"width": 1105, "height": 120, "title": {"text": "Energy"},
  "layer": [
   {"transform": [{"filter": "datum.p == 'energy'"}, {"flatten": ["d"]}],
    "mark": {"type": "line", "clip": true, "strokeJoin": "round", "strokeCap": "round"},
    "encoding": {
     "x": {"field": "d[0]", "type": "quantitative", "scale": {"domain": [0, 1260], "nice": false}, "axis": {"orient": "bottom", "values": [0,240,480,720,960,1200], "labels": false, "title": null, "grid": true}},
     "y": {"field": "d[1]", "type": "quantitative", "scale": {"domain": [4.35, 11.73], "nice": false, "zero": false}, "axis": {"values": [5,10], "format": "~r", "grid": true, "labelPadding": 19, "title": "[erg]", "titleX": -61, "titleY": 60, "titleAngle": 270, "titleAlign": "center", "titleBaseline": "middle"}},
     "color": {"field": "s", "type": "nominal", "scale": {"domain": ["Improved Rec.","Inductive-Only","Improved,dt=6h","Improved,dt=12h","Improved,dt=24h","Improved,dt=48h"], "range": ["#0000FF","#FF0000","#00FF00","#0072BD","#D95319","#EDB120"]}, "legend": {"title": null}},
     "strokeWidth": {"field": "s", "type": "ordinal", "scale": {"domain": ["Improved Rec.","Inductive-Only","Improved,dt=6h","Improved,dt=12h","Improved,dt=24h","Improved,dt=48h"], "range": [2,2,2,3.8,3.8,3.8]}, "legend": null}
    }},
   {"data": {"values": [{"h": 0, "v": 5}]},
    "mark": {"type": "point", "opacity": 0},
    "encoding": {
     "x": {"field": "h", "type": "quantitative", "scale": {"domain": [0, 1260], "nice": false}, "axis": {"orient": "top", "values": [0,240,480,720,960,1200], "labels": false, "grid": false, "title": "×10 ³³", "titleX": 2, "titleY": -6, "titleAngle": 0, "titleAlign": "left", "titleBaseline": "alphabetic", "titleFontSize": 20}},
     "y": {"field": "v", "type": "quantitative", "scale": {"domain": [4.35, 11.73], "nice": false, "zero": false}, "axis": {"orient": "right", "values": [5,10], "labels": false, "grid": false, "title": null}}
    }}
  ],
  "resolve": {"axis": {"x": "independent", "y": "independent"}}
 },
 {"width": 1105, "height": 120, "title": {"text": "Average |j|", "dy": 7},
  "layer": [
   {"transform": [{"filter": "datum.p == 'j'"}, {"flatten": ["d"]}],
    "mark": {"type": "line", "clip": true, "strokeJoin": "round", "strokeCap": "round"},
    "encoding": {
     "x": {"field": "d[0]", "type": "quantitative", "scale": {"domain": [0, 1260], "nice": false}, "axis": {"orient": "bottom", "values": [0,240,480,720,960,1200], "format": "d", "labels": true, "labelPadding": 17, "title": "Hour", "titlePadding": 3, "grid": true}},
     "y": {"field": "d[1]", "type": "quantitative", "scale": {"domain": [0.05, 6.0], "nice": false, "zero": false}, "axis": {"values": [2,4,6], "format": "~r", "grid": true, "labelPadding": 19, "title": "[statA cm⁻²]", "titleX": -44, "titleY": 60, "titleAngle": 270, "titleAlign": "center", "titleBaseline": "middle"}},
     "color": {"field": "s", "type": "nominal", "scale": {"domain": ["Improved Rec.","Inductive-Only","Improved,dt=6h","Improved,dt=12h","Improved,dt=24h","Improved,dt=48h"], "range": ["#0000FF","#FF0000","#00FF00","#0072BD","#D95319","#EDB120"]}, "legend": {"title": null}},
     "strokeWidth": {"field": "s", "type": "ordinal", "scale": {"domain": ["Improved Rec.","Inductive-Only","Improved,dt=6h","Improved,dt=12h","Improved,dt=24h","Improved,dt=48h"], "range": [2,2,2,3.8,3.8,3.8]}, "legend": null}
    }},
   {"data": {"values": [{"h": 0, "v": 2}]},
    "mark": {"type": "point", "opacity": 0},
    "encoding": {
     "x": {"field": "h", "type": "quantitative", "scale": {"domain": [0, 1260], "nice": false}, "axis": {"orient": "top", "values": [0,240,480,720,960,1200], "labels": false, "grid": false, "title": null}},
     "y": {"field": "v", "type": "quantitative", "scale": {"domain": [0.05, 6.0], "nice": false, "zero": false}, "axis": {"orient": "right", "values": [2,4,6], "labels": false, "grid": false, "title": null}}
    }}
  ],
  "resolve": {"axis": {"x": "independent", "y": "independent"}}
 }
]
}
